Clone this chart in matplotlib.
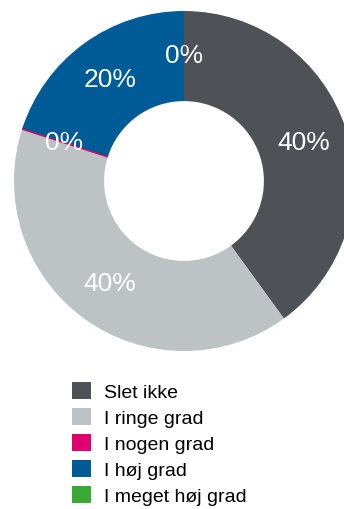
import matplotlib
matplotlib.use("Agg")
import matplotlib.pyplot as plt
from matplotlib.patches import Patch

plt.rcParams['font.family'] = ['Liberation Sans', 'DejaVu Sans']

# svarfordeling
labels = ['Slet ikke', 'I ringe grad', 'I nogen grad', 'I høj grad', 'I meget høj grad']
values = [40, 40, 0, 20, 0]
colors = ['#4e5257', '#bdc2c5', '#e0006f', '#005b96', '#3aa935']

fig = plt.figure(figsize=(3.44, 5.10), dpi=100)
ax = fig.add_axes([14 / 344, 158 / 510, 340 / 344, 340 / 510])

wedges, texts, autotexts = ax.pie(
    values, colors=colors, startangle=90, counterclock=False,
    radius=1, autopct='%1.0f%%', pctdistance=0.74,
    wedgeprops=dict(width=0.53, linewidth=0),
    textprops=dict(color='white', fontsize=19))

# nul-andelen for "I nogen grad" vises som en tynd streg
wedges[2].set_edgecolor(colors[2])
wedges[2].set_linewidth(2)

ax.set_xlim(-1, 1)
ax.set_ylim(-1, 1)
ax.set_aspect('equal')
ax.axis('off')

handles = [Patch(facecolor=c, edgecolor='none') for c in colors]
fig.legend(handles, labels, loc='upper left', bbox_to_anchor=(72 / 344, 127 / 510),
           frameon=False, fontsize=14, handlelength=1.0, handleheight=1.0,
           handletextpad=0.65, labelspacing=0.34, borderpad=0, borderaxespad=0)

fig.savefig('out.png', dpi=100)
